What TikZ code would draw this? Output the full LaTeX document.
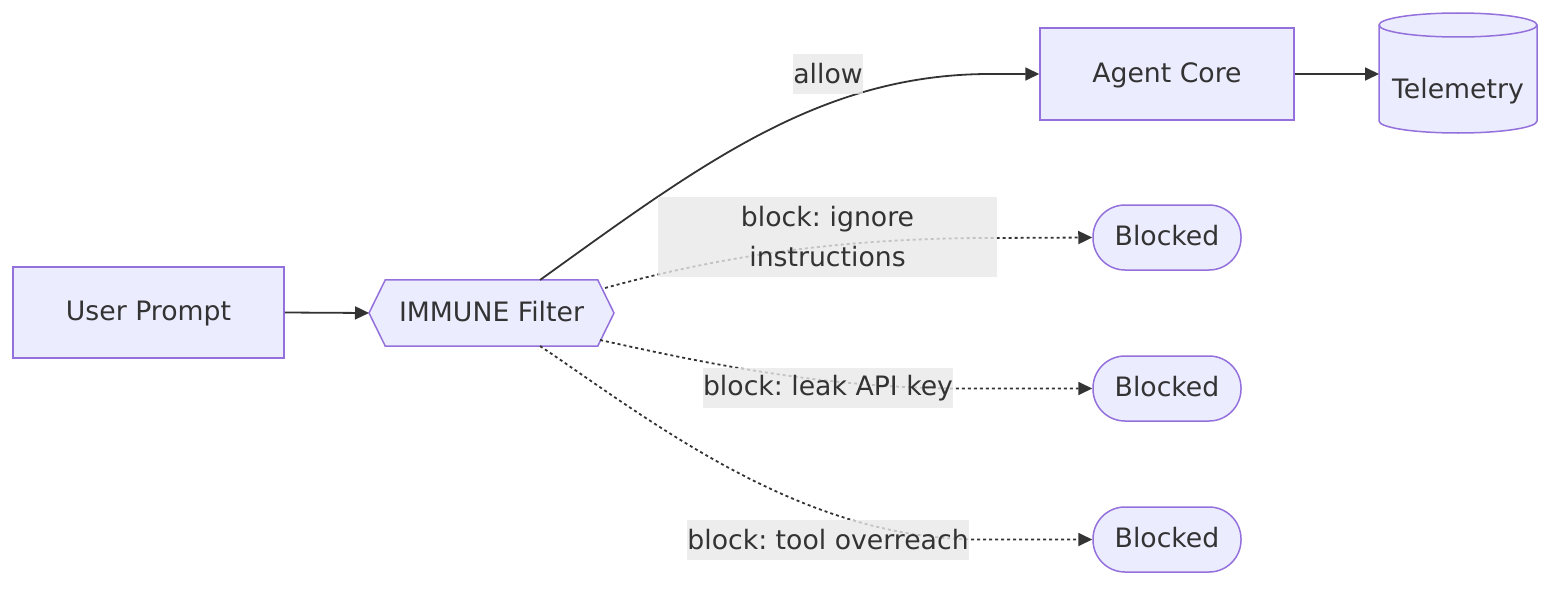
\documentclass[tikz,border=0pt]{standalone}
\usepackage{fontspec}
\setmainfont{DejaVu Sans}
\usetikzlibrary{arrows.meta,calc}
\definecolor{nodefill}{HTML}{ECECFF}
\definecolor{nodeline}{HTML}{9370DB}
\definecolor{ink}{HTML}{333333}
\definecolor{lblbg}{HTML}{E8E8E8}
\frenchspacing
\begin{document}
\begin{tikzpicture}[x=1pt,y=1pt,
  every node/.style={font=\fontsize{26.7}{40}\selectfont\frenchspacing, text=ink},
  txt/.style={text height=20pt, text depth=4pt},
  box/.style={draw=nodeline, fill=nodefill, line width=1.5pt, inner sep=0pt, txt},
  stadium/.style={box, minimum width=148, minimum height=65, rounded corners=32},
  edge/.style={draw=ink, line width=1.8pt, -{Triangle[length=14pt,width=13pt]}},
  dotedge/.style={edge, dash pattern=on 3pt off 3pt},
  lbl/.style={fill=lblbg, fill opacity=0.8, text opacity=1, inner sep=0pt, minimum height=40}
]
\useasboundingbox (0,0) rectangle (1568,-594);

% nodes
\node[box, minimum width=271, minimum height=91] (up) at (148.5,-312.5) {User Prompt};
\node[minimum width=212, minimum height=66, inner sep=0pt] (imf) at (491.5,-313) {};
\coordinate (hl) at (369,-313);
\coordinate (hr) at (614,-313);
\filldraw[draw=nodeline, fill=nodefill, line width=1.5pt]
  (imf.north west) -- (imf.north east) -- (hr) -- (imf.south east) -- (imf.south west) -- (hl) -- cycle;
\node[txt, inner sep=0pt] (imft) at (imf.center) {IMMUNE Filter};

\node[box, minimum width=254, minimum height=92] (ac) at (1167,-74) {Agent Core};

% cylinder
\coordinate (telw) at (1379,-74);
\filldraw[draw=nodeline, fill=nodefill, line width=1.5pt]
  (1379,-25) -- (1379,-121) arc[start angle=180,end angle=360,x radius=79,y radius=12]
  -- (1537,-25) arc[start angle=0,end angle=180,x radius=79,y radius=12] -- cycle;
\draw[draw=nodeline, line width=1.5pt] (1379,-25) arc[start angle=180,end angle=360,x radius=79,y radius=12];
\node[txt, inner sep=0pt] (tel) at (1458,-91) {Telemetry};

\node[stadium] (b1) at (1167,-237.5) {Blocked};
\node[stadium] (b2) at (1167,-388.5) {Blocked};
\node[stadium] (b3) at (1167,-539.5) {Blocked};

% anchor points on hexagon
\coordinate (htop) at (540,-280);
\coordinate (hbot) at (540,-346);
\coordinate (hur) at (605,-288);
\coordinate (hlr) at (600,-340);

% edges
\draw[edge] (up.east) -- (hl);
\draw[edge] (ac.east) -- (telw);
\draw[edge] (htop) .. controls (700,-165) and (820,-74) .. (990,-74) -- (ac.west);
\draw[dotedge] (hur) .. controls (700,-262) and (820,-238) .. (990,-238) -- (b1.west);
\draw[dotedge] (hlr) .. controls (700,-362) and (820,-388) .. (960,-388.5) -- (b2.west);
\draw[dotedge] (hbot) .. controls (650,-420) and (800,-539.5) .. (980,-539.5) -- (b3.west);

% labels
\node[lbl] (l0) at (828,-74) {allow};
\node[lbl, text width=339, align=center, minimum height=80] (l1) at (827.5,-237) {block: ignore\\instructions};
\node[lbl] (l2) at (828,-388) {block: leak API key};
\node[lbl] (l3) at (828,-540) {block: tool overreach};
\end{tikzpicture}
\end{document}
